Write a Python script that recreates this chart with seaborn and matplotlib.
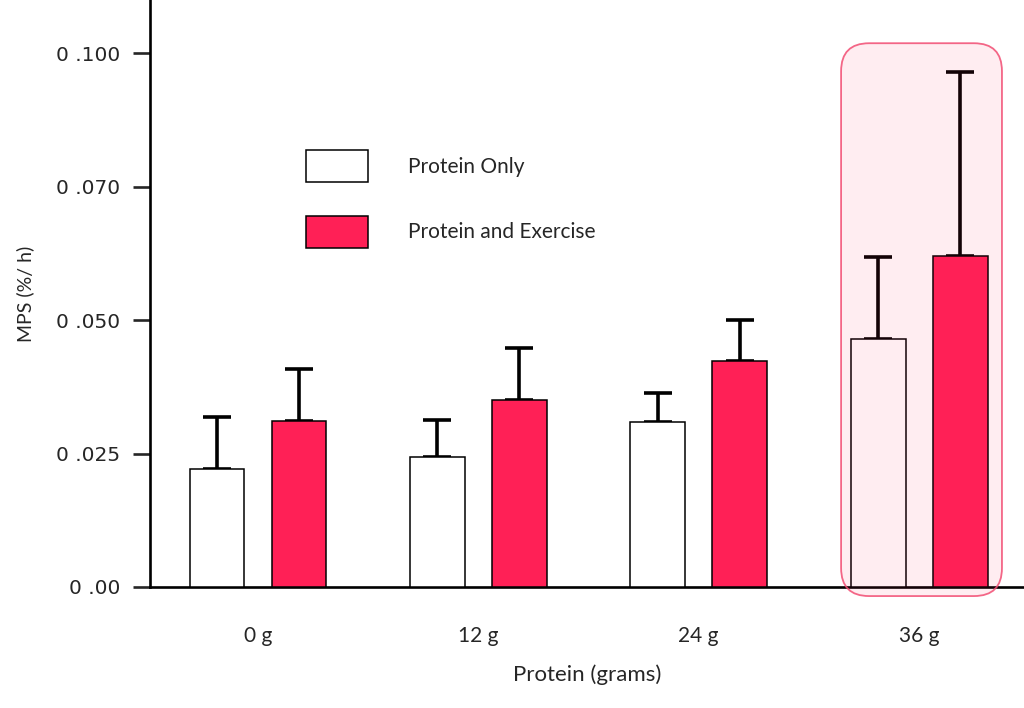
import numpy as np
import matplotlib
matplotlib.use("Agg")
import matplotlib.pyplot as plt
import seaborn as sns
import pandas as pd
from matplotlib.patches import FancyBboxPatch
from matplotlib.transforms import IdentityTransform

# values (MPS, %/h)
protein = ["0 g", "12 g", "24 g", "36 g"]
groups = ["Protein Only", "Protein and Exercise"]
po_mean = [0.0221, 0.0244, 0.0309, 0.0465]
pe_mean = [0.0311, 0.0350, 0.0424, 0.0620]
po_err = [0.0098, 0.0069, 0.0055, 0.0153]
pe_err = [0.0098, 0.0098, 0.0076, 0.0345]
ytick_vals = [0.0, 0.025, 0.05, 0.075, 0.1]
ytick_labels = ["0 .00", "0 .025", "0 .050", "0 .070", "0 .100"]

red = "#FF2056"

df = pd.DataFrame({
    "protein": protein * 2,
    "mps": po_mean + pe_mean,
    "group": [groups[0]] * 4 + [groups[1]] * 4,
})

sns.set_style("white")
plt.rcParams["font.family"] = ["Lato", "DejaVu Sans"]

fig = plt.figure(figsize=(10.24, 7.08), dpi=100)
ax = fig.add_axes([150 / 1024, 121 / 708, 874 / 1024, 587 / 708])

sns.barplot(data=df, x="protein", y="mps", hue="group", hue_order=groups,
            palette={groups[0]: "white", groups[1]: red}, saturation=1,
            edgecolor="black", linewidth=1.1, width=0.744, gap=0.33,
            errorbar=None, legend=False, ax=ax, zorder=3)

for cont, err in zip(ax.containers, [po_err, pe_err]):
    xs = [b.get_x() + b.get_width() / 2 for b in cont]
    ys = [b.get_height() for b in cont]
    ax.errorbar(xs, ys, yerr=[np.zeros(len(err)), err], fmt="none",
                ecolor="black", elinewidth=2.6, capsize=10, capthick=2.6, zorder=2)

ax.set_xlim(-0.49, 3.476)
ax.set_ylim(0, 0.110)

for s in ["top", "right"]:
    ax.spines[s].set_visible(False)
for s in ["left", "bottom"]:
    ax.spines[s].set_linewidth(1.9)
    ax.spines[s].set_color("black")

ax.set_yticks(ytick_vals)
ax.set_yticklabels(ytick_labels, fontsize=14.5, family="DejaVu Sans")
ax.tick_params(axis="y", direction="out", length=12.5, width=1.9, pad=9, left=True)
ax.tick_params(axis="x", length=0, pad=28, labelsize=15)

ax.set_xlabel("Protein (grams)", fontsize=16, labelpad=13)
ax.set_ylabel("MPS (%/ h)", fontsize=14, labelpad=16)

# legend
ax.legend(ax.containers, groups, loc="upper left",
          bbox_to_anchor=((306 - 150) / 874, 1 - 150 / 587),
          frameon=False, borderpad=0, fontsize=15,
          handlelength=2.98, handleheight=2.0, labelspacing=1.6,
          handletextpad=1.92, borderaxespad=0)

# highlight box around the 36 g group
fig.canvas.draw()
(x0, y0) = ax.transData.transform((2.646, -0.0017))
(x1, y1) = ax.transData.transform((3.376, 0.1019))
box = FancyBboxPatch((x0, y0), x1 - x0, y1 - y0,
                     boxstyle="round,pad=0,rounding_size=28",
                     transform=IdentityTransform(),
                     facecolor=(1.0, 0.125, 0.34, 0.08),
                     edgecolor=(0.95, 0.3, 0.45, 0.85), linewidth=1.3,
                     zorder=5)
fig.add_artist(box)

fig.savefig("out.png", dpi=100)
